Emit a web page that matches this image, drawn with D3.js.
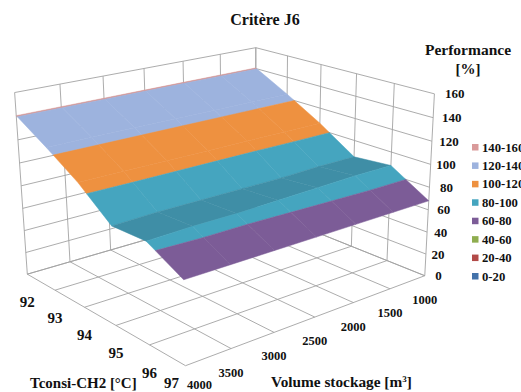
<!DOCTYPE html>
<html><head><meta charset="utf-8">
<script src="https://cdn.jsdelivr.net/npm/d3@7/dist/d3.min.js"></script>
<style>html,body{margin:0;padding:0;background:#fff;overflow:hidden}
text{font-family:"Liberation Serif",serif;font-weight:bold;fill:#111}</style></head>
<body><svg id="c" width="521" height="392"></svg>
<script>
const temps=[92,93,94,95,96,97];
const volumes=[1000,1500,2000,2500,3000,3500,4000];
const perfTicks=[0,20,40,60,80,100,120,140,160];
// performance for each temperature, one value per volume
const perfT92=[140.6,140.6,140.6,140.6,140.6,140.6,140.6];
const perfT93=[124,124,124,124,124,124,124];
const perfT94=[106,106,106,106,106,106,106];
const perfT95=[85,85,84,84,84,84,83];
const perfT96=[88,88,87,86,85,85,84];
const perfT97=[68,68,68,68,68,68,68];
const perfRows=[perfT92,perfT93,perfT94,perfT95,perfT96,perfT97];
const bandLabels=["140-160","120-140","100-120","80-100","60-80","40-60","20-40","0-20"];
const bandLows=[140,120,100,80,60,40,20,0];
const bandColors=["#d99a9a","#9db3de","#ee9140","#45a5bf","#7c5c97","#8fad4f","#b24a48","#4372aa"];
const shadedColor="#3f8ea6";

// camera fit: cube corners (u,v,w) and where they appear
const anchors=[[0,0,0,26,273],[1,0,0,186,366],[1,1,0,424,276],[0,1,0,257,208],
 [0,0,1,15,93],[0,1,1,255,48],[1,1,1,435,93],[.6,0,0,117,326],[1,.5,0,314,317]];
function solve(A,b){const n=b.length;const M=A.map((r,i)=>[...r,b[i]]);
 for(let i=0;i<n;i++){let p=i;for(let k=i+1;k<n;k++)if(Math.abs(M[k][i])>Math.abs(M[p][i]))p=k;
  [M[i],M[p]]=[M[p],M[i]];
  for(let k=0;k<n;k++){if(k===i)continue;const f=M[k][i]/M[i][i];for(let j=i;j<=n;j++)M[k][j]-=f*M[i][j];}}
 return M.map((r,i)=>r[n]/r[i]);}
function fitCamera(){const rows=[],rhs=[];
 anchors.forEach(([u,v,w,x,y])=>{const X=x/500,Y=y/500;
  rows.push([u,v,w,1,0,0,0,0,-X*u,-X*v,-X*w]);rhs.push(X);
  rows.push([0,0,0,0,u,v,w,1,-Y*u,-Y*v,-Y*w]);rhs.push(Y);});
 const n=11,A=d3.range(n).map(i=>d3.range(n).map(j=>d3.sum(rows,r=>r[i]*r[j]))),
  b=d3.range(n).map(i=>d3.sum(rows,(r,k)=>r[i]*rhs[k]));
 return solve(A,b);}
const m=fitCamera();
function project(u,v,w){const d=m[8]*u+m[9]*v+m[10]*w+1;
 return [500*(m[0]*u+m[1]*v+m[2]*w+m[3])/d,500*(m[4]*u+m[5]*v+m[6]*w+m[7])/d];}

const uScale=d3.scaleLinear().domain([92,97]).range([0,1]);
const vScale=d3.scaleLinear().domain([4000,1000]).range([0,1]);
const wScale=d3.scaleLinear().domain([0,160]).range([0,1]);
const P=(t,V,p)=>project(uScale(t),vScale(V),wScale(p));

const svg=d3.select("#c");
const line=d3.line();
const gridG=svg.append("g").attr("fill","none").attr("stroke","#a3a3a3").attr("stroke-width",.9);
function seg(a,b){gridG.append("path").attr("d",line([a,b]));}
const T0=temps[0],T1=temps[temps.length-1],V0=volumes[0],V1=volumes[volumes.length-1],Pmax=perfTicks[perfTicks.length-1];
temps.forEach(t=>{seg(P(t,V1,0),P(t,V0,0));seg(P(t,V0,0),P(t,V0,Pmax));});
volumes.forEach(V=>{seg(P(T0,V,0),P(T1,V,0));seg(P(T0,V,0),P(T0,V,Pmax));});
perfTicks.forEach(p=>{seg(P(T0,V1,p),P(T0,V0,p));seg(P(T0,V0,p),P(T1,V0,p));});

// surface
function clip(poly,f){const out=[];poly.forEach((a,i)=>{const b=poly[(i+1)%poly.length];
  const ia=f(a.p),ib=f(b.p);
  if(ia>=0)out.push(a);
  if((ia>=0)!==(ib>=0)){const s=ia/(ia-ib);out.push({t:a.t+s*(b.t-a.t),V:a.V+s*(b.V-a.V),p:a.p+s*(b.p-a.p)});}
 });return out;}
const surf=svg.append("g");
for(let i=0;i<temps.length-1;i++)for(let j=0;j<volumes.length-1;j++){
 const q=[[i,j],[i+1,j],[i+1,j+1],[i,j+1]].map(([a,b])=>({t:temps[a],V:volumes[b],p:perfRows[a][b]}));
 const rising=perfRows[i+1][j]>perfRows[i][j];
 bandLows.forEach((lo,k)=>{
  const poly=clip(clip(q,p=>p-lo),p=>lo+20-p);
  if(poly.length<3)return;
  const col=(rising&&lo===80)?shadedColor:bandColors[k];
  surf.append("path").attr("d",line(poly.map(d=>P(d.t,d.V,d.p)))+"Z")
   .attr("fill",col).attr("stroke",col).attr("stroke-width",.5);
 });
}

// tick labels
const pOffset=d3.scaleLinear().domain([0,160]).range([17,30]);
perfTicks.forEach(p=>{const b=P(T1,V0,p);
 svg.append("text").attr("x",b[0]+pOffset(p)).attr("y",b[1]+4.5).attr("text-anchor","end").attr("font-size",13).text(p);});
temps.forEach(t=>{const b=P(t,V1,0);const last=t===T1;
 svg.append("text").attr("x",b[0]+(last?-14:0)).attr("y",b[1]+(last?22:33)).attr("text-anchor","middle").attr("font-size",15).text(t);});
volumes.forEach(V=>{const b=P(T1,V,0);const last=V===V1;
 svg.append("text").attr("x",b[0]+(last?14:0)).attr("y",b[1]+(last?23:28)).attr("text-anchor","middle").attr("font-size",12.5).text(V);});

// titles
svg.append("text").attr("x",265).attr("y",25).attr("text-anchor","middle").attr("font-size",16).text("Critère J6");
svg.append("text").attr("x",468).attr("y",55).attr("text-anchor","middle").attr("font-size",15.5).text("Performance");
svg.append("text").attr("x",468).attr("y",74).attr("text-anchor","middle").attr("font-size",15).text("[%]");
const tx=svg.append("text").attr("x",30).attr("y",388).attr("font-size",15);
tx.append("tspan").text("Tconsi-CH2 [°C]");
const vx=svg.append("text").attr("x",271).attr("y",387).attr("font-size",15.3);
vx.append("tspan").text("Volume stockage [m");
vx.append("tspan").attr("dy",-5).attr("font-size",9).text("3");
vx.append("tspan").attr("dy",5).text("]");

// legend
const legY=d3.scalePoint().domain(bandLabels).range([147,276]);
bandLabels.forEach((l,i)=>{
 svg.append("rect").attr("x",472).attr("y",legY(l)-3).attr("width",6.5).attr("height",6.5).attr("fill",bandColors[i]);
 svg.append("text").attr("x",482).attr("y",legY(l)+4.5).attr("font-size",12.7).text(l);
});
</script></body></html>
